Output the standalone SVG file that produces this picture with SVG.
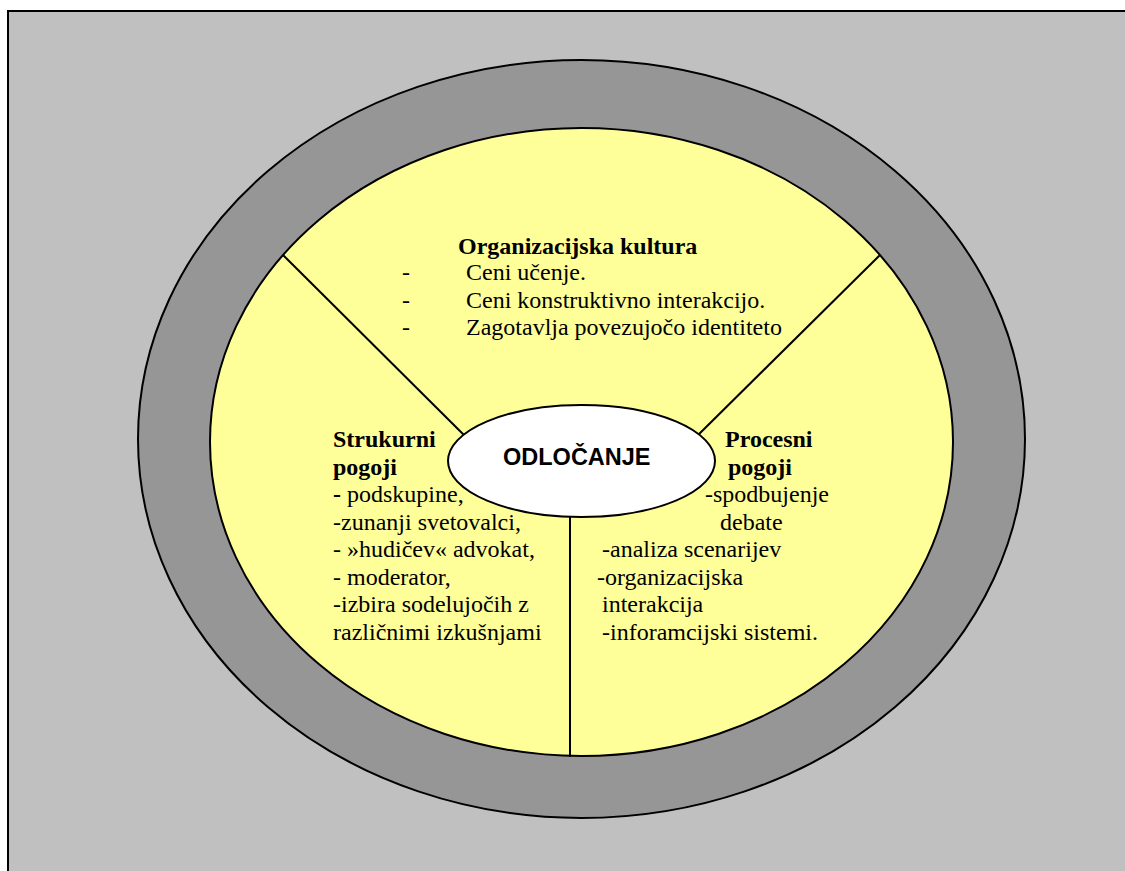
<svg xmlns="http://www.w3.org/2000/svg" width="1125" height="871" viewBox="0 0 1125 871">
  <style>
    .edge { stroke: #000; stroke-width: 2; fill: none; }
    .t { font-family: "Liberation Serif", "Times New Roman", serif; font-size: 24px; fill: #000; }
    .b { font-weight: bold; }
    .hub { font-family: "Liberation Sans", Arial, sans-serif; font-size: 23.5px; font-weight: bold; fill: #000; }
  </style>

  <!-- page frame -->
  <rect x="0" y="0" width="1125" height="871" fill="#ffffff"/>
  <rect x="8" y="11" width="1130" height="870" fill="#c0c0c0" stroke="#000" stroke-width="2"/>

  <!-- outer ring and inner disc -->
  <g id="ring">
    <ellipse cx="581.5" cy="439" rx="443.5" ry="379" fill="#969696" stroke="#000" stroke-width="2"/>
  </g>
  <g id="disc">
    <ellipse cx="581.5" cy="442" rx="371.5" ry="314" fill="#ffff99" stroke="#000" stroke-width="2"/>
  </g>

  <!-- sector dividers -->
  <g id="connectors">
    <line class="edge" x1="283" y1="255" x2="473" y2="444"/>
    <line class="edge" x1="880" y1="255" x2="690" y2="443"/>
    <line class="edge" x1="570" y1="517" x2="570" y2="757"/>
  </g>

  <!-- top sector -->
  <g id="kultura">
    <text class="t b" x="458" y="254">Organizacijska kultura</text>
    <text class="t" x="402" y="280">-</text>
    <text class="t" x="466" y="280">Ceni učenje.</text>
    <text class="t" x="402" y="308">-</text>
    <text class="t" x="466" y="308">Ceni konstruktivno interakcijo.</text>
    <text class="t" x="402" y="335">-</text>
    <text class="t" x="466" y="335">Zagotavlja povezujočo identiteto</text>
  </g>

  <!-- left sector -->
  <g id="strukturni">
    <text class="t b" x="333" y="447">Strukurni</text>
    <text class="t b" x="333" y="475">pogoji</text>
    <text class="t" x="333" y="502"><tspan class="b">-</tspan> podskupine,</text>
    <text class="t" x="333" y="530">-zunanji svetovalci,</text>
    <text class="t" x="333" y="557">- »hudičev« advokat,</text>
    <text class="t" x="333" y="585">- moderator,</text>
    <text class="t" x="333" y="612">-izbira sodelujočih z</text>
    <text class="t" x="333" y="640">različnimi izkušnjami</text>
  </g>

  <!-- right sector -->
  <g id="procesni">
    <text class="t b" x="725" y="447">Procesni</text>
    <text class="t b" x="728" y="475">pogoji</text>
    <text class="t" x="705" y="502">-spodbujenje</text>
    <text class="t" x="720" y="530">debate</text>
    <text class="t" x="602" y="557">-analiza scenarijev</text>
    <text class="t" x="597" y="585">-organizacijska</text>
    <text class="t" x="602" y="612">interakcija</text>
    <text class="t" x="602" y="640">-inforamcijski sistemi.</text>
  </g>

  <!-- central node -->
  <g id="odlocanje">
    <ellipse cx="581.5" cy="461" rx="133.5" ry="56" fill="#ffffff" stroke="#000" stroke-width="2"/>
    <text class="hub" x="503" y="465">ODLOČANJE</text>
  </g>
</svg>
